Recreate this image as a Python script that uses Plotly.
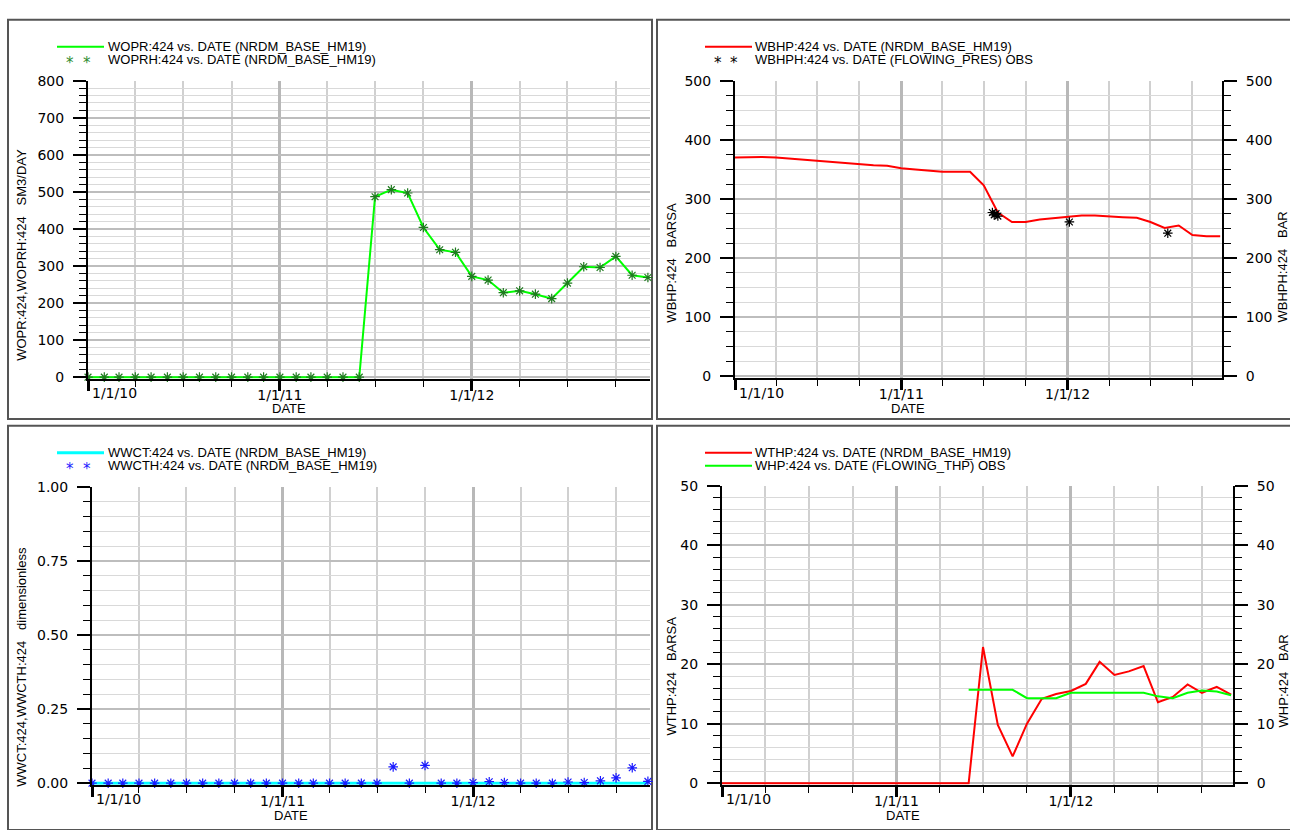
import plotly.graph_objects as go
import pandas as pd

W, H = 1290, 830
def px(x): return x / W
def py(y): return 1 - y / H

# ---------------- data ----------------
months = pd.date_range("2010-01-01", periods=36, freq="MS")
x_range = ["2010-01-01", "2012-12-05"]
year_ticks = ["2010-01-01", "2011-01-01", "2012-01-01"]
year_labels = ["1/1/10", "1/1/11", "1/1/12"]

wopr = [0]*18 + [487, 506, 497, 404, 344, 337, 272, 262, 228, 233, 224, 212,
                 254, 298, 296, 326, 275, 269]
woprh = [0]*18 + [487, 506, 497, 404, 344, 337, 272, 262, 228, 233, 224, 212,
                  254, 298, 296, 326, 275, 269]

wbhp = [370, 371, 371, 370, 368, 367, 365, 362, 360, 358, 357, 356,
        352, 350, 348, 346, 346, 346, 323, 277, 261, 261, 265, 267,
        270, 272, 272, 270, 269, 268, 261, 251, 255, 239, 237, 237]
wbhph_dates = ["2011-07-20", "2011-07-24", "2011-07-28", "2011-08-01",
               "2012-01-05", "2012-08-08"]
wbhph = [277, 273, 275, 271, 261, 242]

wwct = [0.0]*36
wwcth = [0.0]*19 + [0.055, 0.0, 0.060, 0.0, 0.0, 0.002, 0.005, 0.002, 0.0,
                    0.0, 0.0, 0.004, 0.002, 0.008, 0.018, 0.052, 0.006]

wthp = [0]*18 + [22.9, 9.8, 4.5, 10.0, 14.2, 15.0, 15.5, 16.7, 20.4, 18.2,
                 18.8, 19.7, 13.6, 14.5, 16.6, 15.2, 16.2, 14.9]
whp_months = months[17:]
whp = [15.7, 15.7, 15.7, 15.7, 14.3, 14.3, 14.3, 15.2, 15.2, 15.2, 15.2,
       15.2, 15.2, 14.6, 14.3, 15.2, 15.6, 15.4, 14.8]

# ---------------- styling ----------------
TICKFONT = dict(family="DejaVu Sans", size=14, color="black")
TXTFONT = dict(family="Liberation Sans", size=13, color="black")
TITLEFONT = dict(family="Liberation Sans", size=13, color="black")


def xaxis_cfg(domain, anchor):
    return dict(domain=domain, anchor=anchor, type="date", range=x_range,
                tickmode="array", tickvals=year_ticks,
                ticktext=[""] + year_labels[1:],
                ticks="outside", ticklen=10, tickwidth=3, tickcolor="black",
                showline=True, linewidth=2, linecolor="black",
                showgrid=True, gridcolor="#b8b8b8", gridwidth=3,
                minor=dict(dtick="M3", tick0="2010-01-01", ticks="outside",
                           ticklen=6, tickwidth=1, tickcolor="black",
                           showgrid=True, gridcolor="#d0d0d0", gridwidth=2),
                tickfont=TICKFONT, zeroline=False, fixedrange=True,
                ticklabelstandoff=-7)


def yaxis_cfg(domain, anchor, rng, dtick, mdtick, side="left", fmt=None,
              overlaying=None, grid=True):
    d = dict(domain=domain, anchor=anchor, range=rng, tick0=0, dtick=dtick,
             side=side, ticks="outside", ticklen=13, tickwidth=2,
             tickcolor="black", showline=True, linewidth=2, linecolor="black",
             showgrid=grid, gridcolor="#bdbdbd", gridwidth=2,
             minor=dict(dtick=mdtick, tick0=0, ticks="outside", ticklen=7,
                        tickwidth=1, tickcolor="black", showgrid=grid,
                        gridcolor="#d9d9d9", gridwidth=1),
             tickfont=TICKFONT, zeroline=False, ticklabelstandoff=6,
             fixedrange=True)
    if fmt:
        d["tickformat"] = fmt
    if overlaying:
        d["overlaying"] = overlaying
    return d


# panel domains (pixels)
P1 = dict(x=(88, 650), y=(74, 377))
P2 = dict(x=(735, 1222), y=(74, 376))
P3 = dict(x=(92, 650), y=(487, 790))
P4 = dict(x=(722, 1233), y=(486, 790))


def xd(p): return [px(p["x"][0]), px(p["x"][1])]
def yd(p): return [py(p["y"][1]), py(p["y"][0])]


def star_marker(color):
    return dict(symbol="asterisk-open", size=8, color=color,
                line=dict(color=color, width=1.2))


fig = go.Figure()

# Panel 1
fig.add_trace(go.Scatter(x=months, y=wopr, mode="lines",
                         line=dict(color="#00ff00", width=2),
                         xaxis="x", yaxis="y", showlegend=False))
fig.add_trace(go.Scatter(x=months, y=woprh, mode="markers",
                         marker=star_marker("#1f7a1f"),
                         cliponaxis=False, xaxis="x", yaxis="y",
                         showlegend=False))
# Panel 2
fig.add_trace(go.Scatter(x=months, y=wbhp, mode="lines",
                         line=dict(color="#ff0000", width=2),
                         xaxis="x2", yaxis="y2", showlegend=False))
fig.add_trace(go.Scatter(x=wbhph_dates, y=wbhph, mode="markers",
                         marker=star_marker("#000000"),
                         cliponaxis=False, xaxis="x2", yaxis="y5",
                         showlegend=False))
# Panel 3
fig.add_trace(go.Scatter(x=months, y=wwct, mode="lines",
                         line=dict(color="#00ffff", width=3),
                         xaxis="x3", yaxis="y3", showlegend=False))
fig.add_trace(go.Scatter(x=months, y=wwcth, mode="markers",
                         marker=star_marker("#1a1aff"),
                         cliponaxis=False, xaxis="x3", yaxis="y3",
                         showlegend=False))
# Panel 4
fig.add_trace(go.Scatter(x=months, y=wthp, mode="lines",
                         line=dict(color="#ff0000", width=2),
                         xaxis="x4", yaxis="y4", showlegend=False))
fig.add_trace(go.Scatter(x=whp_months, y=whp, mode="lines",
                         line=dict(color="#00ff00", width=2),
                         xaxis="x4", yaxis="y6", showlegend=False))

fig.update_layout(
    width=W, height=H, margin=dict(l=0, r=0, t=0, b=0),
    paper_bgcolor="white", plot_bgcolor="white", showlegend=False,
    xaxis=xaxis_cfg(xd(P1), "y"),
    yaxis=yaxis_cfg(yd(P1), "x", [-4, 800], 100, 20),
    xaxis2=xaxis_cfg(xd(P2), "y2"),
    yaxis2=yaxis_cfg(yd(P2), "x2", [-2.5, 500], 100, 25),
    yaxis5=yaxis_cfg(yd(P2), "x2", [-2.5, 500], 100, 25, side="right",
                     overlaying="y2", grid=False),
    xaxis3=xaxis_cfg(xd(P3), "y3"),
    yaxis3=yaxis_cfg(yd(P3), "x3", [-0.005, 1.0], 0.25, 0.05, fmt=".2f"),
    xaxis4=xaxis_cfg(xd(P4), "y4"),
    yaxis4=yaxis_cfg(yd(P4), "x4", [-0.25, 50], 10, 2),
    yaxis6=yaxis_cfg(yd(P4), "x4", [-0.25, 50], 10, 2, side="right",
                     overlaying="y4", grid=False),
)

shapes = []
annotations = []

# panel frames
for (x0, y0, x1, y1) in [(8, 12, 652, 418), (657, 12, 1296, 418),
                         (8, 425, 652, 836), (657, 425, 1296, 836)]:
    shapes.append(dict(type="rect", xref="paper", yref="paper",
                       x0=px(x0), x1=px(x1), y0=py(y1), y1=py(y0),
                       line=dict(color="#555555", width=2),
                       fillcolor="rgba(0,0,0,0)", layer="below"))

# first year tick label (left-aligned at the axis start)
for xr, ylab in [("x", 392), ("x2", 392), ("x3", 805), ("x4", 805)]:
    annotations.append(dict(text=year_labels[0], xref=xr, x=year_ticks[0],
                            yref="paper", y=py(ylab), xanchor="left",
                            yanchor="middle", xshift=2, showarrow=False,
                            font=TICKFONT))

# DATE labels
for (cx, cy) in [(289, 407), (908, 407), (291, 821), (903, 821)]:
    annotations.append(dict(text="DATE", xref="paper", yref="paper",
                            x=px(cx), y=py(cy), xanchor="center",
                            yanchor="middle", showarrow=False,
                            font=TITLEFONT))

# y-axis titles
NB = "\u00a0"
for (txt, cx, cy) in [
    ("WOPR:424,WOPRH:424" + NB*3 + "SM3/DAY", 22, 251),
    ("WBHP:424" + NB*3 + "BARSA", 672, 259),
    ("WBHPH:424" + NB*3 + "BAR", 1283, 264),
    ("WWCT:424,WWCTH:424" + NB*3 + "dimensionless", 22, 670),
    ("WTHP:424" + NB*3 + "BARSA", 672, 680),
    ("WHP:424" + NB*3 + "BAR", 1283, 685),
]:
    annotations.append(dict(text=txt, xref="paper", yref="paper",
                            x=px(cx), y=py(cy), textangle=-90,
                            xanchor="center", yanchor="middle",
                            showarrow=False, font=TITLEFONT))

# custom legends
def legend_line(x0, x1, y, color, width=2):
    shapes.append(dict(type="line", xref="paper", yref="paper",
                       x0=px(x0), x1=px(x1), y0=py(y), y1=py(y),
                       line=dict(color=color, width=width)))

def legend_stars(xs, y, color):
    for xx in xs:
        annotations.append(dict(text="*", xref="paper", yref="paper",
                                x=px(xx), y=py(y), xanchor="center",
                                yanchor="middle", yshift=-3, showarrow=False,
                                font=dict(family="DejaVu Sans", size=15,
                                          color=color)))

def legend_text(txt, x, y):
    annotations.append(dict(text=txt, xref="paper", yref="paper",
                            x=px(x), y=py(y), xanchor="left",
                            yanchor="middle", showarrow=False, font=TXTFONT))

legend_line(57, 104, 39.5, "#00ff00")
legend_text("WOPR:424 vs. DATE (NRDM_BASE_HM19)", 106, 39.5)
legend_stars([70, 87], 52.5, "#2e8b2e")
legend_text("WOPRH:424 vs. DATE (NRDM_BASE_HM19)", 106, 52.5)

legend_line(705, 752, 39.5, "#ff0000")
legend_text("WBHP:424 vs. DATE (NRDM_BASE_HM19)", 753, 39.5)
legend_stars([718, 734], 52.5, "#000000")
legend_text("WBHPH:424 vs. DATE (FLOWING_PRES) OBS", 753, 52.5)

legend_line(57, 104, 452.5, "#00ffff", 3)
legend_text("WWCT:424 vs. DATE (NRDM_BASE_HM19)", 106, 452.5)
legend_stars([70, 87], 465.5, "#1a1aff")
legend_text("WWCTH:424 vs. DATE (NRDM_BASE_HM19)", 106, 465.5)

legend_line(705, 752, 452.5, "#ff0000")
legend_text("WTHP:424 vs. DATE (NRDM_BASE_HM19)", 753, 452.5)
legend_line(705, 752, 465.5, "#00ff00")
legend_text("WHP:424 vs. DATE (FLOWING_THP) OBS", 753, 465.5)

fig.update_layout(shapes=shapes, annotations=annotations)
fig.write_html("out.html")
